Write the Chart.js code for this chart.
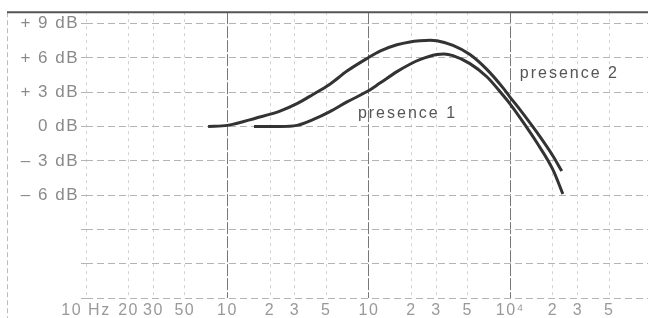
<!DOCTYPE html>
<html>
<head>
<meta charset="utf-8">
<script src="https://cdn.jsdelivr.net/npm/chart.js@4/dist/chart.umd.min.js"></script>
<style>
  html, body { margin: 0; padding: 0; background: #fff; }
  #wrap { width: 648px; height: 318px; position: relative; }
</style>
</head>
<body>
<div id="wrap"><canvas id="presenceChart"></canvas></div>
<script>
// frequency (Hz) and level (dB)
let presence1Freq = [154, 235, 310, 402, 530, 700, 984, 1197, 1578, 1950, 2290, 3025, 3400, 3930, 5180, 6820, 8850, 9910, 11660, 15380, 19950, 23500];
let presence1Db   = [0, 0, 0.1, 0.6, 1.3, 2.15, 3.1, 3.8, 4.8, 5.45, 5.85, 6.3, 6.35, 6.2, 5.5, 4.35, 2.75, 2.0, 0.8, -1.4, -3.75, -5.9];

let presence2Freq = [73, 100, 160, 235, 310, 402, 530, 700, 984, 1197, 1578, 1950, 2290, 2700, 3025, 3930, 5180, 6820, 8850, 9910, 11660, 15380, 19950, 23100];
let presence2Db   = [0, 0.1, 0.75, 1.35, 2.0, 2.8, 3.7, 4.85, 6.0, 6.6, 7.15, 7.4, 7.5, 7.55, 7.5, 7.1, 6.3, 5.0, 3.4, 2.6, 1.5, -0.5, -2.56, -3.9];

let freqTicks  = [10, 20, 30, 50, 100, 200, 300, 500, 1000, 2000, 3000, 5000, 10000, 20000, 30000, 50000];
let freqLabels = ['10 Hz', '20', '30', '50', '10', '2', '3', '5', '10', '2', '3', '5', '10\u2074', '2', '3', '5'];
let majorFreqs = [100, 1000, 10000];

let dbTicks  = [-15, -12, -9, -6, -3, 0, 3, 6, 9];
let dbLabels = ['', '', '', '\u2013 6 dB', '\u2013 3 dB', '0 dB', '+ 3 dB', '+ 6 dB', '+ 9 dB'];

// text notes on the curves: [text, freq, dB]
let notes = [['presence 1', 836, 1.17], ['presence 2', 11660, 4.67]];

function toPoints(xs, ys) {
    return xs.map(function (x, i) { return { x: x, y: ys[i] }; });
}

let framePlugin = {
    id: 'frame',
    beforeDraw: function (chart) {
        chart.ctx.letterSpacing = '1.5px';
    },
    afterDraw: function (chart) {
        let ctx = chart.ctx;
        let area = chart.chartArea;
        ctx.save();
        // left frame, light and broken
        ctx.strokeStyle = '#bbb';
        ctx.lineWidth = 1;
        ctx.setLineDash([5, 3]);
        ctx.beginPath();
        ctx.moveTo(7.5, area.top);
        ctx.lineTo(7.5, chart.height);
        ctx.stroke();
        // top frame
        ctx.setLineDash([]);
        ctx.strokeStyle = '#555';
        ctx.lineWidth = 2;
        ctx.beginPath();
        ctx.moveTo(7, area.top);
        ctx.lineTo(chart.width, area.top);
        ctx.stroke();
        // notes
        ctx.fillStyle = '#555';
        ctx.font = '16px "Liberation Sans", Arial, sans-serif';
        ctx.letterSpacing = '2px';
        ctx.textBaseline = 'middle';
        ctx.textAlign = 'left';
        notes.forEach(function (n) {
            let px = chart.scales.x.getPixelForValue(n[1]);
            let py = chart.scales.y.getPixelForValue(n[2]);
            ctx.fillText(n[0], px, py);
        });
        ctx.restore();
    }
};

let presenceChart = new Chart(document.getElementById('presenceChart'), {
    type: 'line'
    , data: {
        datasets: [{
            label: 'presence 1'
            , data: toPoints(presence1Freq, presence1Db)
            , borderColor: '#333'
            , borderWidth: 3
            , pointRadius: 0
            , cubicInterpolationMode: 'monotone'
            , fill: false
        }, {
            label: 'presence 2'
            , data: toPoints(presence2Freq, presence2Db)
            , borderColor: '#333'
            , borderWidth: 3
            , pointRadius: 0
            , cubicInterpolationMode: 'monotone'
            , fill: false
        }]
    }
    , options: {
        responsive: true
        , maintainAspectRatio: false
        , animation: false
        , layout: { padding: { top: 12, left: 0, right: 0, bottom: 0 } }
        , plugins: { legend: { display: false }, tooltip: { enabled: false } }
        , scales: {
            x: {
                type: 'logarithmic'
                , min: 10
                , max: 94000
                , afterBuildTicks: function (scale) {
                    scale.ticks = freqTicks.map(function (v) { return { value: v }; });
                }
                , afterFit: function (scale) { scale.height = 20; }
                , ticks: {
                    autoSkip: false
                    , maxRotation: 0
                    , padding: 3
                    , color: '#999'
                    , font: { family: '"Liberation Sans", Arial, sans-serif', size: 16 }
                    , callback: function (v, i) { return freqLabels[i]; }
                }
                , grid: {
                    drawTicks: false
                    , color: function (c) {
                        return majorFreqs.indexOf(c.tick && c.tick.value) >= 0 ? '#777' : '#d2d2d2';
                    }
                    , lineWidth: 1
                }
                , border: {
                    display: false
                    , dash: function (c) {
                        return majorFreqs.indexOf(c.tick && c.tick.value) >= 0 ? [12, 2] : [3, 4];
                    }
                }
            }
            , y: {
                min: -15
                , max: 10
                , afterBuildTicks: function (scale) {
                    scale.ticks = dbTicks.map(function (v) { return { value: v }; });
                }
                , afterFit: function (scale) { scale.width = 86; }
                , ticks: {
                    padding: 2
                    , color: '#8a8a8a'
                    , font: { family: '"Liberation Sans", Arial, sans-serif', size: 17 }
                    , callback: function (v, i) { return dbLabels[i]; }
                }
                , grid: {
                    color: '#b4b4b4'
                    , tickLength: 5
                    , lineWidth: 1
                }
                , border: { display: false, dash: [7, 4] }
            }
        }
    }
    , plugins: [framePlugin]
});
</script>
</body>
</html>
